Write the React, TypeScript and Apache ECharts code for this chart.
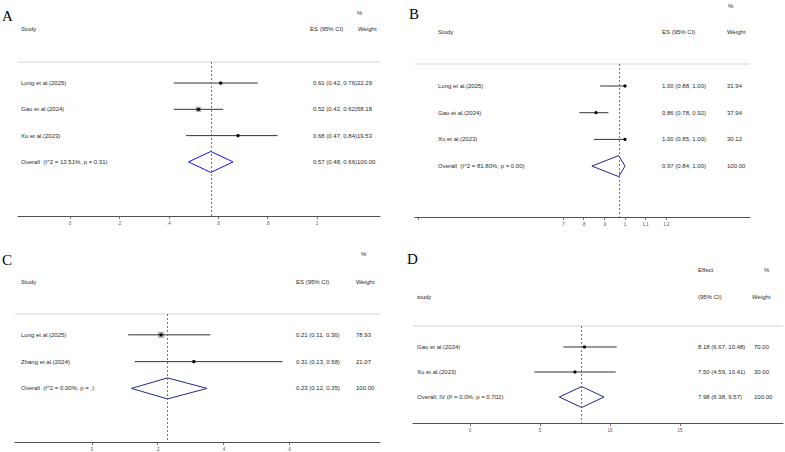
import React, { useEffect, useRef } from "react";
import * as echarts from "echarts";

// ---------- Panel A ----------
const studiesA = ["Long et al.(2025)", "Gao et al.(2024)", "Xu et al.(2023)"];
const esA = [0.61, 0.52, 0.68];
const lowA = [0.42, 0.42, 0.47];
const highA = [0.76, 0.62, 0.84];
const weightA = [22.29, 58.18, 19.53];
const overallA = [0.57, 0.48, 0.66];
const overallLabelA = "Overall  (I^2 = 13.51%, p = 0.31)";
const ticksA = [0, 0.2, 0.4, 0.6, 0.8, 1];
const tickLabelsA = [0, 0.2, 0.4, 0.6, 0.8, 1];

// ---------- Panel B ----------
const studiesB = ["Long et al.(2025)", "Gao et al.(2024)", "Xu et al.(2023)"];
const esB = [1.0, 0.86, 1.0];
const lowB = [0.88, 0.78, 0.85];
const highB = [1.0, 0.92, 1.0];
const weightB = [31.94, 37.94, 30.12];
const overallB = [0.97, 0.84, 1.0];
const overallLabelB = "Overall  (I^2 = 81.80%, p = 0.00)";
const ticksB = [0, 0.7, 0.8, 0.9, 1, 1.1, 1.2];
const tickLabelsB = [0.7, 0.8, 0.9, 1, 1.1, 1.2];

// ---------- Panel C ----------
const studiesC = ["Long et al.(2025)", "Zhang et al.(2024)"];
const esC = [0.21, 0.31];
const lowC = [0.11, 0.13];
const highC = [0.36, 0.58];
const weightC = [78.93, 21.07];
const overallC = [0.23, 0.12, 0.35];
const overallLabelC = "Overall  (I^2 = 0.00%, p = .)";
const ticksC = [0, 0.2, 0.4, 0.6];
const tickLabelsC = [0, 0.2, 0.4, 0.6];

// ---------- Panel D ----------
const studiesD = ["Gao et al.(2024)", "Xu et al.(2023)"];
const esD = [8.18, 7.5];
const lowD = [6.67, 4.59];
const highD = [10.48, 10.41];
const weightD = [70.0, 30.0];
const overallD = [7.98, 6.38, 9.57];
const overallLabelD = "Overall, IV (I\u00b2 = 0.0%, p = 0.702)";
const ticksD = [0, 5, 10, 15];
const tickLabelsD = [0, 5, 10, 15];

const FONT = "Liberation Sans, Arial, Helvetica, sans-serif";
const TEXT_COLOR = "#2a2a2a";

function fmtTick(v: number) {
  if (v === 0) return "0";
  const s = String(Math.round(v * 100) / 100);
  return s.startsWith("0.") ? s.slice(1) : s;
}

type Panel = {
  studies: string[];
  es: number[];
  low: number[];
  high: number[];
  weight: number[];
  overall: number[];
  overallLabel: string;
  ticks: number[];
  tickLabels: number[];
  grid: { left: number; top: number; width: number; height: number };
  xMin: number;
  xMax: number;
  yMin: number;
  yMax: number;
  labelX: number;
  esX: number;
  wX: number;
  diamond: string;
  boxes: boolean;
};

const panels: Panel[] = [
  {
    studies: studiesA, es: esA, low: lowA, high: highA, weight: weightA,
    overall: overallA, overallLabel: overallLabelA, ticks: ticksA, tickLabels: tickLabelsA,
    grid: { left: 18, top: 62, width: 362, height: 154 },
    xMin: -0.2105, xMax: 1.255, yMin: -0.8, yMax: 5.057,
    labelX: 21, esX: 313, wX: 357, diamond: "#1010ff", boxes: true,
  },
  {
    studies: studiesB, es: esB, low: lowB, high: highB, weight: weightB,
    overall: overallB, overallLabel: overallLabelB, ticks: ticksB, tickLabels: tickLabelsB,
    grid: { left: 415, top: 64, width: 335, height: 153 },
    xMin: -0.0145, xMax: 1.604, yMin: -0.824, yMax: 4.906,
    labelX: 438, esX: 662, wX: 727, diamond: "#22268a", boxes: false,
  },
  {
    studies: studiesC, es: esC, low: lowC, high: highC, weight: weightC,
    overall: overallC, overallLabel: overallLabelC, ticks: ticksC, tickLabels: tickLabelsC,
    grid: { left: 15, top: 314, width: 365, height: 129 },
    xMin: -0.2344, xMax: 0.8767, yMin: -0.778, yMax: 4.0,
    labelX: 21, esX: 296, wX: 356, diamond: "#22268a", boxes: true,
  },
  {
    studies: studiesD, es: esD, low: lowD, high: highD, weight: weightD,
    overall: overallD, overallLabel: overallLabelD, ticks: ticksD, tickLabels: tickLabelsD,
    grid: { left: 413, top: 326, width: 370, height: 97 },
    xMin: -4.07, xMax: 22.36, yMin: -0.84, yMax: 3.04,
    labelX: 417, esX: 698, wX: 754, diamond: "#22268a", boxes: false,
  },
];

const headers = [
  { t: "A", x: 2, y: 16, serif: true },
  { t: "%", x: 357, y: 13 },
  { t: "Study", x: 21, y: 29 },
  { t: "ES (95% CI)", x: 310, y: 29 },
  { t: "Weight", x: 358, y: 29 },
  { t: "B", x: 409, y: 14, serif: true },
  { t: "%", x: 728, y: 6 },
  { t: "Study", x: 438, y: 32 },
  { t: "ES (95% CI)", x: 662, y: 32 },
  { t: "Weight", x: 727, y: 32 },
  { t: "C", x: 2, y: 260, serif: true },
  { t: "%", x: 361, y: 254 },
  { t: "Study", x: 21, y: 282 },
  { t: "ES (95% CI)", x: 296, y: 282 },
  { t: "Weight", x: 356, y: 282 },
  { t: "D", x: 407, y: 259, serif: true },
  { t: "Effect", x: 698, y: 270 },
  { t: "%", x: 764, y: 270 },
  { t: "study", x: 417, y: 297 },
  { t: "(95% CI)", x: 698, y: 297 },
  { t: "Weight", x: 752, y: 297 },
];

function buildOption() {
  const grids: any[] = [];
  const xAxes: any[] = [];
  const yAxes: any[] = [];
  const series: any[] = [];
  const graphics: any[] = [];

  panels.forEach((p, pi) => {
    grids.push({ ...p.grid, containLabel: false });
    xAxes.push({
      type: "value",
      gridIndex: pi,
      min: p.xMin,
      max: p.xMax,
      position: "bottom",
      axisLine: { show: true, onZero: false, lineStyle: { color: "#505050", width: 1 } },
      axisTick: { show: true, length: 3, customValues: p.ticks, lineStyle: { color: "#505050", width: 0.8 } },
      axisLabel: {
        show: true,
        customValues: p.tickLabels,
        formatter: (v: number) => fmtTick(v),
        fontSize: 4.5,
        color: "#555",
        fontFamily: FONT,
        margin: 5,
      },
      splitLine: { show: false },
    });
    yAxes.push({
      type: "value",
      gridIndex: pi,
      inverse: true,
      min: p.yMin,
      max: p.yMax,
      show: false,
    });

    const n = p.studies.length;
    const rows: any[] = [];
    for (let i = 0; i < n; i++) {
      rows.push({
        value: [i, p.es[i], p.low[i], p.high[i], p.weight[i], 0],
        label: p.studies[i],
        esText: `${p.es[i].toFixed(2)} (${p.low[i].toFixed(2)}, ${p.high[i].toFixed(2)})`,
        wText: p.weight[i].toFixed(2),
      });
    }
    rows.push({
      value: [n, p.overall[0], p.overall[1], p.overall[2], 100, 1],
      label: p.overallLabel,
      esText: `${p.overall[0].toFixed(2)} (${p.overall[1].toFixed(2)}, ${p.overall[2].toFixed(2)})`,
      wText: (100).toFixed(2),
    });

    const txt = (s: string, x: number, y: number) => ({
      type: "text",
      style: {
        text: s,
        x,
        y,
        fontSize: 6,
        fontFamily: FONT,
        fill: TEXT_COLOR,
        align: "left",
        verticalAlign: "middle",
      },
      silent: true,
    });

    series.push({
      type: "custom",
      xAxisIndex: pi,
      yAxisIndex: pi,
      clip: false,
      data: rows.map((r) => r.value),
      renderItem: (params: any, api: any) => {
        const r = rows[params.dataIndex];
        const idx = api.value(0);
        const es = api.value(1);
        const lo = api.value(2);
        const hi = api.value(3);
        const w = api.value(4);
        const isOverall = api.value(5) === 1;
        const pm = api.coord([es, idx]);
        const pl = api.coord([lo, idx]);
        const ph = api.coord([hi, idx]);
        const y = pm[1];
        const children: any[] = [];
        if (isOverall) {
          const h = 10.5;
          children.push({
            type: "polygon",
            shape: { points: [[pl[0], y], [pm[0], y - h], [ph[0], y], [pm[0], y + h]] },
            style: { fill: "none", stroke: p.diamond, lineWidth: 1 },
          });
        } else {
          if (p.boxes) {
            const s = Math.sqrt(w) * 0.7;
            children.push({
              type: "rect",
              shape: { x: pm[0] - s / 2, y: y - s / 2, width: s, height: s },
              style: { fill: "#b4b4b4" },
            });
          }
          children.push({
            type: "line",
            shape: { x1: pl[0], y1: y, x2: ph[0], y2: y },
            style: { stroke: "#333", lineWidth: 1 },
          });
          children.push({
            type: "circle",
            shape: { cx: pm[0], cy: y, r: 1.6 },
            style: { fill: "#000" },
          });
        }
        children.push(txt(r.label, p.labelX, y));
        children.push(txt(r.esText, p.esX, y));
        children.push(txt(r.wText, p.wX, y));
        return { type: "group", children };
      },
      markLine: {
        silent: true,
        symbol: ["none", "none"],
        label: { show: false },
        lineStyle: { color: "#d03a3a", type: [2, 2], width: 0.9 },
        data: [{ xAxis: p.overall[0] }],
      },
    });

    graphics.push({
      type: "line",
      shape: { x1: p.grid.left, y1: p.grid.top, x2: p.grid.left + p.grid.width, y2: p.grid.top },
      style: { stroke: "#d4d4d4", lineWidth: 1 },
      silent: true,
    });
  });

  headers.forEach((h: any) => {
    graphics.push({
      type: "text",
      x: h.x,
      y: h.y,
      style: {
        text: h.t,
        fontSize: h.serif ? 15 : 6,
        fontFamily: h.serif ? "Liberation Serif, Times New Roman, serif" : FONT,
        fill: h.serif ? "#000" : TEXT_COLOR,
        align: "left",
        verticalAlign: "middle",
      },
      silent: true,
    });
  });

  return {
    animation: false,
    backgroundColor: "#ffffff",
    grid: grids,
    xAxis: xAxes,
    yAxis: yAxes,
    series,
    graphic: graphics,
  };
}

export default function App() {
  const ref = useRef<HTMLDivElement>(null);
  useEffect(() => {
    if (!ref.current) return;
    const chart = echarts.init(ref.current, undefined, { renderer: "svg" });
    chart.setOption(buildOption() as any);
    return () => chart.dispose();
  }, []);
  return (
    <div
      ref={ref}
      style={{ position: "fixed", left: 0, top: 0, width: 785, height: 452, background: "#fff" }}
    />
  );
}
